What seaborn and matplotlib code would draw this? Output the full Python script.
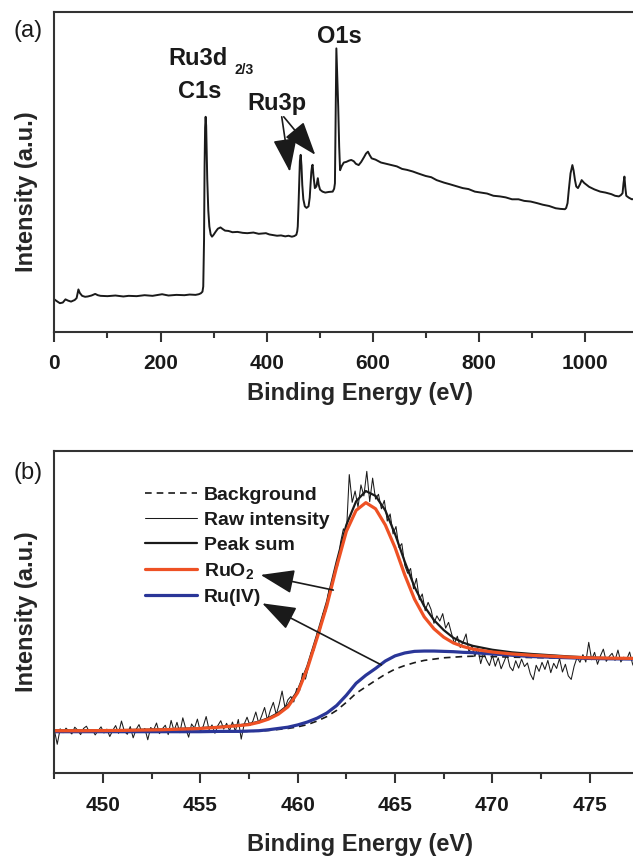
import numpy as np
import pandas as pd
import matplotlib
matplotlib.use("Agg")
import matplotlib.pyplot as plt
from matplotlib.ticker import MultipleLocator
import seaborn as sns

# ---------------- (a) survey spectrum ----------------
survey_energy = [
    0, 5, 10.5, 16, 21, 26, 31.5, 38.4, 42, 45.4, 48, 52.4, 58, 63, 70, 77, 82, 87,
    100, 115, 130, 140, 155, 170, 185, 203, 215, 230, 245, 255, 266, 272, 276, 279,
    280.5, 282, 283, 284, 285, 286, 287, 288, 290, 292, 294.5, 297, 300, 304, 308,
    313, 317, 321.5, 328, 335.5, 345, 355, 363.5, 375, 385, 398.5, 405, 412, 419.4,
    427, 435, 441, 447.4, 452, 455.8, 457.5, 458.5, 460, 461.3, 462.5, 464, 465.5,
    467, 469, 471.8, 475, 478.8, 481, 482.3, 484, 485.5, 486.5, 488, 490.7, 493.5,
    495, 496.3, 498, 500.5, 505, 510.3, 517, 524.3, 527, 528.5, 530, 531.2, 532.5,
    534.7, 536.5, 538.2, 541, 545.2, 550, 555, 559.2, 564, 568, 573.2, 578, 583.7,
    587, 590.7, 594, 597.7, 605, 615.2, 625, 635, 645, 655, 664.2, 675, 685, 699.2,
    710, 720, 734.2, 745, 755, 769.2, 780, 792, 804.2, 815, 827, 839.2, 850, 862,
    874.2, 885, 897, 909.2, 920, 932, 944.2, 953, 961.7, 964, 966.6, 969, 972.2,
    975.7, 978, 980.6, 983, 986.2, 990, 993.2, 998, 1007.2, 1017, 1028.2, 1038,
    1049.2, 1056, 1063.2, 1067, 1070.2, 1072, 1073.7, 1075.5, 1077.2, 1082, 1087.7,
    1092, 1100,
]
survey_intensity = [
    10.2, 9.6, 9.0, 9.2, 10.2, 9.8, 9.5, 10.0, 10.6, 13.3, 12.2, 11.3, 11.0, 11.1,
    11.4, 11.9, 11.5, 11.3, 11.2, 11.4, 11.1, 11.3, 11.2, 11.5, 11.3, 11.8, 11.4,
    11.6, 11.5, 11.7, 11.6, 11.8, 12.1, 12.6, 14.2, 28.8, 51.7, 64.0, 67.3, 64.5,
    57.0, 48.0, 38.0, 33.0, 30.5, 29.8, 30.4, 31.4, 32.3, 32.7, 32.2, 31.7, 31.6,
    31.2, 31.3, 31.0, 30.9, 31.1, 30.7, 30.9, 30.5, 30.3, 30.1, 30.2, 29.9, 30.1,
    29.8, 30.0, 30.4, 31.5, 33.0, 40.0, 47.6, 53.5, 55.4, 52.0, 46.0, 41.5, 39.3,
    38.8, 39.3, 42.0, 45.5, 50.0, 52.0, 52.3, 49.0, 45.0, 45.5, 47.0, 48.1, 46.0,
    44.5, 43.9, 43.6, 43.8, 43.9, 44.8, 46.5, 70.0, 88.7, 82.0, 70.4, 58.0, 50.6,
    51.8, 53.0, 53.2, 53.6, 53.8, 53.4, 52.6, 52.2, 53.2, 54.8, 55.8, 56.4, 55.3,
    54.3, 53.9, 53.0, 52.6, 52.2, 51.8, 51.0, 50.7, 50.2, 49.6, 48.8, 48.4, 47.5,
    46.7, 46.2, 45.7, 45.0, 44.7, 43.9, 43.6, 43.3, 42.6, 42.4, 42.1, 41.5, 41.5,
    41.0, 40.8, 40.3, 39.8, 39.4, 38.7, 38.5, 38.4, 38.8, 40.3, 44.5, 49.6, 52.2,
    50.5, 47.5, 45.5, 45.0, 46.2, 47.5, 46.6, 45.4, 44.6, 43.9, 43.6, 43.1, 42.6,
    42.4, 42.8, 43.4, 46.5, 48.6, 45.0, 42.6, 42.0, 41.5, 41.6, 41.4,
]
survey_ticks = [0, 200, 400, 600, 800, 1000]

# ---------------- (b) Ru 3p high-resolution spectrum ----------------
raw_start, raw_step = 447.5, 0.15
raw_intensity = [
    13.5, 9.0, 13.8, 12.6, 14.0, 13.1, 12.2, 14.3, 13.4, 12.0, 13.9, 14.6, 12.8,
    13.5, 11.9, 13.2, 14.4, 12.5, 13.7, 11.4, 13.3,
    14.8, 12.4, 16.2, 13.0, 12.1, 14.5, 11.0, 13.6, 15.1, 12.7, 13.9, 10.4, 14.2,
    13.4, 15.6, 12.3, 13.8, 14.9, 12.0, 16.4,
    13.1, 15.8, 12.6, 17.2, 13.9, 11.2, 15.3, 14.0, 16.8, 12.9, 14.6, 17.6, 13.5,
    15.0, 12.4, 14.8, 16.3, 13.7, 15.5, 13.2,
    15.9, 13.0, 16.7, 10.6, 15.2, 17.4, 14.8, 16.2, 19.0, 15.5,
    17.8, 20.4, 16.5, 19.6, 22.0, 18.2, 21.4, 25.5, 20.3, 22.8,
    23.8, 22.1, 26.3, 25.6, 31.0, 29.2, 33.0, 37.5, 38.2, 43.5,
    44.0, 49.5, 50.2, 56.8, 57.5, 63.0, 64.2, 71.5, 75.8, 74.0,
    92.6, 84.0, 87.5, 82.5, 89.4, 86.0, 93.6, 84.2, 91.5, 85.0,
    86.5, 82.0, 84.6, 78.2, 80.4, 74.2, 76.5, 70.0, 71.2, 64.5,
    62.0, 63.5, 57.2, 60.4, 53.8, 55.6, 50.4, 53.0, 50.8, 46.5,
    48.8, 47.2, 49.5, 45.0, 46.8, 43.4, 40.2, 42.5, 39.0, 40.8,
    43.2, 37.5, 39.6, 36.2, 38.8, 34.0, 37.4, 35.1, 33.4, 36.6,
    33.2, 35.8, 32.4, 34.6, 36.9, 33.0, 31.8, 34.9, 32.6, 35.4,
    33.1, 34.2, 30.8, 29.0, 33.5, 31.6, 34.4, 32.2, 35.0, 31.2,
    34.1, 32.5, 35.6, 31.4, 33.8, 30.2, 29.1, 33.2, 35.9, 34.4,
    36.8, 34.5, 40.6, 35.2, 37.5, 33.8, 36.4, 38.5, 34.7, 36.2,
    37.2, 35.0, 38.2, 34.5, 36.0, 35.3, 37.6, 33.9, 32.0, 35.6,
]
fit_energy = [
    447.5, 449, 451, 453, 455, 456, 457, 457.5, 458, 458.5, 459, 459.5, 460, 460.5,
    461, 461.5, 462, 462.5, 463, 463.5, 464, 464.5, 465, 465.5, 466, 466.5, 467,
    467.5, 468, 468.5, 469, 470, 471, 472, 473, 474, 475, 476, 477.5,
]
fit_background = [
    12.9, 12.9, 12.9, 12.9, 12.9, 12.9, 13.0, 13.0, 13.1, 13.3, 13.6, 13.9, 14.4,
    15.1, 16.2, 17.6, 19.5, 22.0, 24.8, 26.8, 28.8, 30.7, 32.3, 33.4, 34.3, 35.0,
    35.4, 35.8, 36.0, 36.2, 36.3, 36.2, 36.0, 35.9, 35.8, 35.7, 35.6, 35.5, 35.4,
]
fit_peak_sum = [
    13.3, 13.3, 13.4, 13.6, 14.0, 14.4, 14.9, 15.3, 16.0, 17.1, 18.7, 21.1, 25.6,
    33.2, 42.9, 53.1, 65.5, 77.0, 84.3, 87.5, 86.0, 81.5, 74.2, 65.6, 57.8, 51.8,
    47.5, 44.4, 42.0, 40.5, 39.5, 38.3, 37.5, 37.0, 36.6, 36.2, 35.9, 35.7, 35.6,
]
fit_ruo2 = [
    13.2, 13.2, 13.3, 13.5, 13.9, 14.3, 14.8, 15.1, 15.8, 16.8, 18.3, 20.6, 25.0,
    32.5, 42.0, 52.0, 64.0, 75.0, 81.5, 83.9, 82.0, 77.0, 70.0, 61.5, 54.0, 48.5,
    44.8, 42.2, 40.4, 39.3, 38.5, 37.6, 37.0, 36.6, 36.3, 36.0, 35.8, 35.7, 35.6,
]
fit_ru_iv = [
    12.9, 12.9, 12.9, 12.9, 12.9, 13.0, 13.0, 13.1, 13.2, 13.5, 13.9, 14.3, 15.0,
    15.9, 17.1, 18.7, 21.0, 24.2, 27.9, 30.4, 32.5, 34.8, 36.4, 37.3, 37.8, 37.9,
    37.9, 37.8, 37.7, 37.5, 37.4, 37.0, 36.6, 36.2, 36.0, 35.8, 35.6, 35.5, 35.4,
]
detail_ticks = [450, 455, 460, 465, 470, 475]

raw_energy = np.round(raw_start + raw_step * np.arange(len(raw_intensity)), 3)
survey_df = pd.DataFrame({"energy": survey_energy, "intensity": survey_intensity})
raw_df = pd.DataFrame({"energy": raw_energy, "intensity": raw_intensity})
fit_df = pd.DataFrame({
    "energy": fit_energy,
    "background": fit_background,
    "peak_sum": fit_peak_sum,
    "ruo2": fit_ruo2,
    "ru_iv": fit_ru_iv,
})

# ---------------- styling ----------------
sns.set_theme(style="ticks")
plt.rcParams["font.family"] = ["Liberation Sans", "DejaVu Sans"]
plt.rcParams.update({
    "font.weight": "bold",
    "axes.labelweight": "bold",
    "mathtext.fontset": "custom",
    "mathtext.rm": "Liberation Sans:bold",
    "mathtext.it": "Liberation Sans:bold",
    "mathtext.bf": "Liberation Sans:bold",
    "mathtext.default": "rm",
    "text.color": "#1a1a1a",
    "axes.edgecolor": "#333333",
    "xtick.color": "#333333",
    "xtick.labelcolor": "#1a1a1a",
})

INK = "#1a1a1a"
ORANGE = "#EE5124"
BLUE = "#2A3698"

fig = plt.figure(figsize=(6.33, 8.58), dpi=100)
ax1 = fig.add_axes([0.0858, 0.6131, 0.9227, 0.3726])
ax2 = fig.add_axes([0.0858, 0.0987, 0.9227, 0.3760])


def style_axes(ax, minor_step):
    for side in ("left", "bottom", "top"):
        ax.spines[side].set_linewidth(1.5)
        ax.spines[side].set_color("#333333")
    ax.spines["right"].set_visible(False)
    ax.set_yticks([])
    ax.xaxis.set_minor_locator(MultipleLocator(minor_step))
    ax.tick_params(axis="x", which="major", direction="out", length=7.2,
                   width=1.5, labelsize=15, pad=9)
    ax.tick_params(axis="x", which="minor", direction="out", length=4,
                   width=1.5)
    for lab in ax.get_xticklabels():
        lab.set_fontweight("bold")
    ax.set_xlabel("Binding Energy (eV)", fontsize=17, fontweight="bold")
    ax.set_ylabel("Intensity (a.u.)", fontsize=17, fontweight="bold")
    ax.xaxis.label.set_va("center")
    ax.yaxis.label.set_va("center")


# ---------------- (a) ----------------
sns.lineplot(data=survey_df, x="energy", y="intensity", ax=ax1, color=INK,
             lw=1.4, sort=False, estimator=None)
ax1.set_xlim(0, 1100)
ax1.set_ylim(0, 100)
ax1.set_xticks(survey_ticks)
style_axes(ax1, 100)
ax1.xaxis.set_label_coords(0.523, -0.191)
ax1.yaxis.set_label_coords(-0.047, 0.44)

peak_font = dict(fontsize=17, fontweight="bold", color=INK)
ax1.text(214, 83.5, "Ru3d", ha="left", va="baseline", **peak_font)
ax1.text(340, 80.6, "2/3", ha="left", va="baseline", fontsize=10,
         fontweight="bold", color=INK)
ax1.text(274, 73.2, "C1s", ha="center", va="baseline", **peak_font)
ax1.text(420, 69.4, "Ru3p", ha="center", va="baseline", **peak_font)
ax1.text(536, 90.4, "O1s", ha="center", va="baseline", **peak_font)

arrow_kw = dict(arrowstyle="-|>,head_length=2.1,head_width=0.75",
                mutation_scale=10, lw=1.2, color=INK, shrinkA=0, shrinkB=0)
ax1.annotate("", xy=(443.6, 50.1), xytext=(428.3, 67.3), arrowprops=arrow_kw)
ax1.annotate("", xy=(491.5, 55.4), xytext=(432.1, 67.3), arrowprops=arrow_kw)

# ---------------- (b) ----------------
sns.lineplot(data=raw_df, x="energy", y="intensity", ax=ax2, color=INK, lw=0.75,
             sort=False, estimator=None, label="Raw intensity")
sns.lineplot(data=fit_df, x="energy", y="background", ax=ax2, color=INK,
             lw=1.2, ls=(0, (4, 3)), sort=False, estimator=None,
             label="Background")
sns.lineplot(data=fit_df, x="energy", y="peak_sum", ax=ax2, color=INK, lw=1.6,
             sort=False, estimator=None, label="Peak sum")
sns.lineplot(data=fit_df, x="energy", y="ru_iv", ax=ax2, color=BLUE, lw=2.3,
             sort=False, estimator=None, label="Ru(IV)")
sns.lineplot(data=fit_df, x="energy", y="ruo2", ax=ax2, color=ORANGE, lw=2.3,
             sort=False, estimator=None, label="RuO$_2$")
ax2.set_xlim(447.5, 477.5)
ax2.set_ylim(0, 100)
ax2.set_xticks(detail_ticks)
style_axes(ax2, 2.5)
ax2.xaxis.set_label_coords(0.523, -0.222)
ax2.yaxis.set_label_coords(-0.047, 0.5)

handles, labels = ax2.get_legend_handles_labels()
order = ["Background", "Raw intensity", "Peak sum", "RuO$_2$", "Ru(IV)"]
lookup = dict(zip(labels, handles))
ax2.legend([lookup[k] for k in order], order, loc="upper left",
           bbox_to_anchor=(0.155, 0.89), frameon=False,
           handlelength=2.7, handletextpad=0.35, labelspacing=0.38,
           borderpad=0, borderaxespad=0, prop={"weight": "bold", "size": 14})

ax2.annotate("", xy=(458.1, 61.5), xytext=(461.83, 56.8), arrowprops=arrow_kw)
ax2.annotate("", xy=(458.18, 52.7), xytext=(464.3, 33.6), arrowprops=arrow_kw)

# panel letters
fig.text(0.0442, 0.9639, "(a)", ha="center", va="center", fontsize=17,
         fontweight="normal", color=INK)
fig.text(0.0442, 0.4487, "(b)", ha="center", va="center", fontsize=17,
         fontweight="normal", color=INK)

fig.savefig("out.png", dpi=100)
